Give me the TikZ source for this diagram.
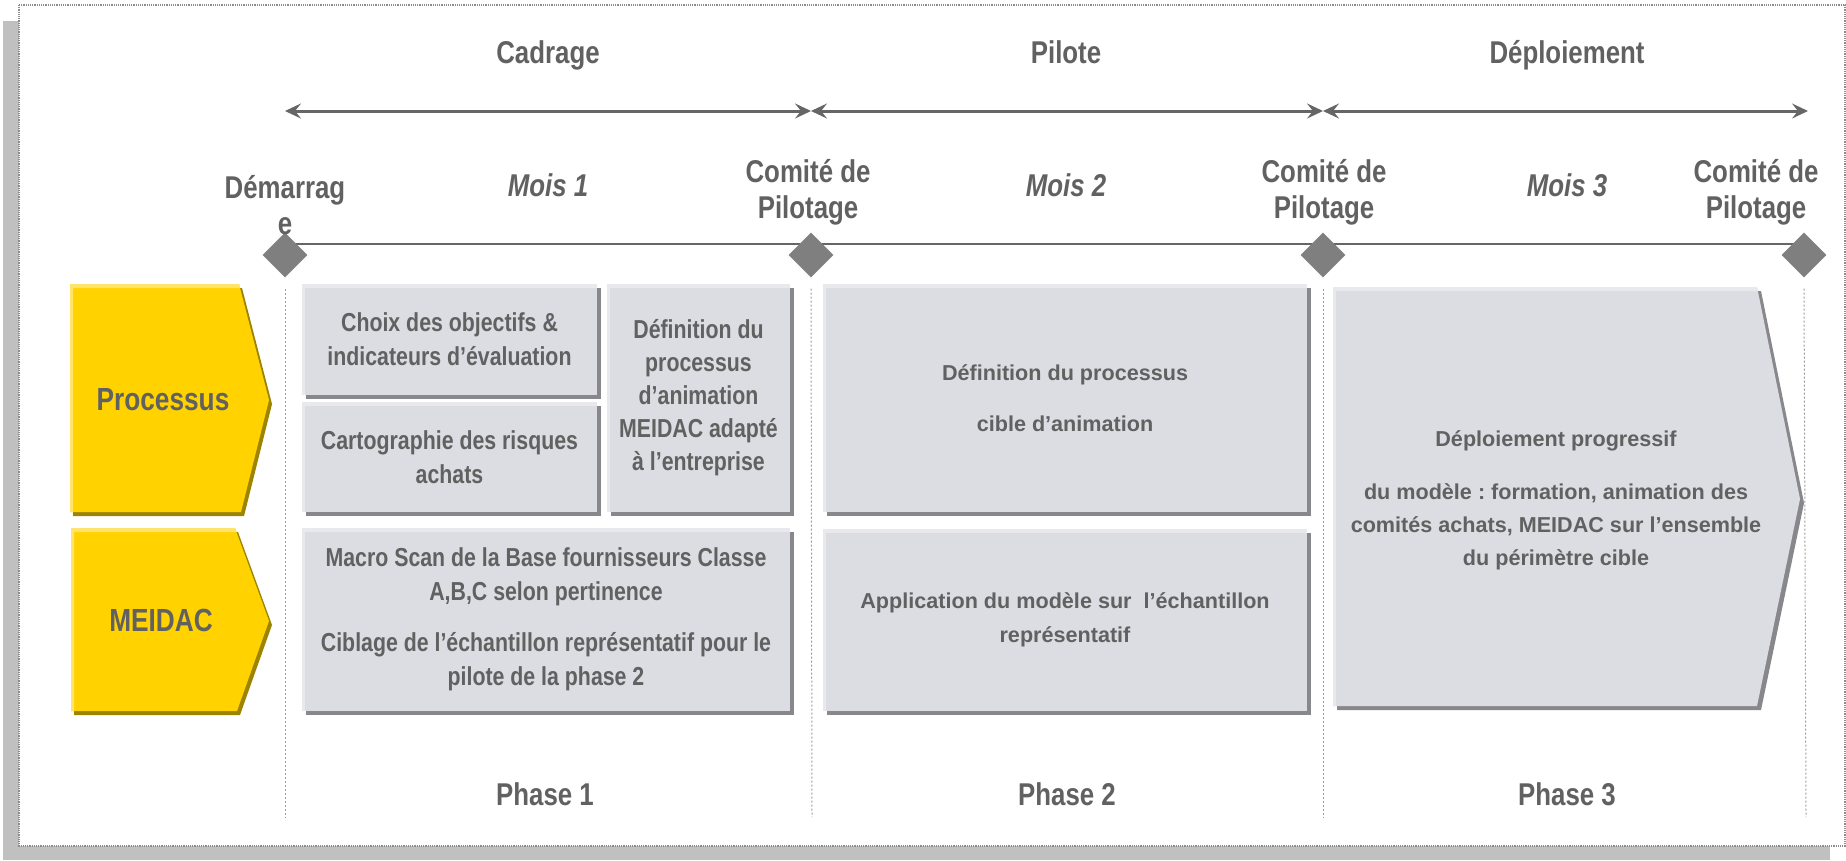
\documentclass[tikz,border=0pt]{standalone}
\usepackage{fontspec}
\usetikzlibrary{shapes.geometric,arrows.meta,shadows}

% condensed sans for labels, regular sans for the later phase boxes
\newfontfamily\narrow{Liberation Sans}[FakeStretch=0.82]
\newfontfamily\wide{Liberation Sans}
\frenchspacing

\definecolor{ink}{HTML}{616161}
\definecolor{linegray}{HTML}{666666}
\definecolor{stonegray}{HTML}{7F7F7F}
\definecolor{framedots}{HTML}{8C8C8C}
\definecolor{frameshadow}{HTML}{C0C0C0}
\definecolor{phasedash}{HTML}{9A9A9A}
\definecolor{cardfill}{HTML}{DCDDE3}
\definecolor{cardlight}{HTML}{E9E9ED}
\definecolor{cardshade}{HTML}{88888C}
\definecolor{gold}{HTML}{FFD200}
\definecolor{goldlight}{HTML}{FFE36B}
\definecolor{goldshade}{HTML}{9C8400}

\begin{document}
\begin{tikzpicture}[x=1pt,y=-1pt,
  toplabel/.style={text=ink, inner sep=0pt, align=center,
    font=\narrow\bfseries\fontsize{31.5}{36}\selectfont},
  monthlabel/.style={text=ink, inner sep=0pt,
    font=\narrow\bfseries\itshape\fontsize{31.5}{36}\selectfont},
  rowlabel/.style={text=ink, inner sep=0pt,
    font=\narrow\bfseries\fontsize{32}{36}\selectfont},
  milestone/.style={diamond, fill=stonegray, inner sep=0pt,
    minimum width=45pt, minimum height=45pt},
  span/.style={draw=linegray, line width=3pt,
    {Stealth[length=16pt,width=15pt,inset=6pt]}-{Stealth[length=16pt,width=15pt,inset=6pt]}},
  timeline/.style={draw=linegray, line width=2.6pt},
  phaseline/.style={draw=phasedash, line width=1pt, dash pattern=on 2pt off 2pt},
  card/.style={rectangle, inner sep=0pt, fill=cardfill, align=center, text=ink,
    drop shadow={shadow xshift=4pt, shadow yshift=-4pt, fill=cardshade, opacity=1},
    path picture={
      \fill[cardlight] (path picture bounding box.north west) rectangle ([yshift=-4pt]path picture bounding box.north east);
      \fill[cardlight] (path picture bounding box.north west) rectangle ([xshift=3pt]path picture bounding box.south west);}},
  cardnarrow/.style={card, font=\narrow\bfseries\fontsize{26}{34}\selectfont},
  cardwide/.style={card, font=\wide\bfseries\fontsize{21.6}{34}\selectfont},
]
\useasboundingbox (0,0) rectangle (1846,860);

% page frame with its shadow
\fill[frameshadow] (3,21) rectangle (1830,860);
\filldraw[fill=white, draw=framedots, densely dotted, line width=1.2pt] (19,5) rectangle (1845,846);

% phase spans
\coordinate (a0) at (285,111);
\coordinate (a1) at (811,111);
\coordinate (a2) at (1323,111);
\coordinate (a3) at (1808,111);
\draw[span] (a0) -- (a1);
\draw[span] (a1) -- (a2);
\draw[span] (a2) -- (a3);

\node[toplabel, anchor=base] (cadrage) at (548,63) {Cadrage};
\node[toplabel, anchor=base] (pilote) at (1066,63) {Pilote};
\node[toplabel, anchor=base] (deploi) at (1567,63) {Déploiement};

% milestone line and diamonds
\coordinate (m0) at (285,255);
\coordinate (m1) at (811,255);
\coordinate (m2) at (1323,255);
\coordinate (m3) at (1804,255);
\draw[timeline] ([yshift=11pt]m0) -- ([yshift=11pt]m3);
\node[milestone] (d0) at (m0) {};
\node[milestone] (d1) at (m1) {};
\node[milestone] (d2) at (m2) {};
\node[milestone] (d3) at (m3) {};

\node[toplabel] (start) at (285,205) {Démarrag\\e};
\node[toplabel] (cp1) at (808,192) {Comité de\\Pilotage};
\node[toplabel] (cp2) at (1324,192) {Comité de\\Pilotage};
\node[toplabel] (cp3) at (1756,192) {Comité de\\Pilotage};

\node[monthlabel, anchor=base] (mois1) at (548,196) {Mois 1};
\node[monthlabel, anchor=base] (mois2) at (1066,196) {Mois 2};
\node[monthlabel, anchor=base] (mois3) at (1567,196) {Mois 3};

% dashed phase separators
\coordinate (e0) at (285,817);
\coordinate (e1) at (812,817);
\coordinate (e2) at (1323,817);
\coordinate (e3) at (1806,817);
\draw[phaseline] ([yshift=-11pt]d0.south) -- (e0);
\draw[phaseline] ([yshift=-11pt]d1.south) -- (e1);
\draw[phaseline] ([yshift=-11pt]d2.south) -- (e2);
\draw[phaseline] ([yshift=-11pt]d3.south) -- (e3);

% row headers
\fill[goldshade] (73,288) -- (242,288) -- (272,404) -- (244,516) -- (73,516) -- cycle;
\fill[gold] (70,284) -- (239,284) -- (269,400) -- (241,512) -- (70,512) -- cycle;
\fill[goldlight] (70,284) -- (239,284) -- (240,288) -- (73,288) -- (73,512) -- (70,512) -- cycle;
\node[rowlabel] (proc) at (163,400) {Processus};

\fill[goldshade] (74,532) -- (238,532) -- (272,625) -- (240,715) -- (74,715) -- cycle;
\fill[gold] (71,528) -- (235,528) -- (269,621) -- (237,711) -- (71,711) -- cycle;
\fill[goldlight] (71,528) -- (235,528) -- (236,532) -- (74,532) -- (74,711) -- (71,711) -- cycle;
\node[rowlabel] (meidac) at (161,620) {MEIDAC};

% phase 1 activities
\node[cardnarrow, minimum width=295pt, minimum height=111pt] (choix) at (449.5,339.5)
  {Choix des objectifs \&\\indicateurs d’évaluation};
\node[cardnarrow, minimum width=295pt, minimum height=110pt] (carto) at (449.5,457)
  {Cartographie des risques\\achats};
\node[cardnarrow, minimum width=183pt, minimum height=228pt,
      font=\narrow\bfseries\fontsize{26}{33}\selectfont] (defin) at (698.5,398)
  {Définition du\\processus\\d’animation\\MEIDAC adapté\\à l’entreprise};
\node[cardnarrow, minimum width=488pt, minimum height=183pt] (macro) at (546,619.5)
  {Macro Scan de la Base fournisseurs Classe\\A,B,C selon pertinence\\[17pt]Ciblage de l’échantillon représentatif pour le\\pilote de la phase 2};

% phase 2 activities
\node[cardwide, minimum width=484pt, minimum height=228pt] (p2top) at (1065,398)
  {Définition du processus\\[17pt]cible d’animation};
\node[cardwide, minimum width=484pt, minimum height=182pt] (p2bot) at (1065,620)
  {Application du modèle sur~ l’échantillon\\représentatif};

% phase 3 roll-out arrow
\fill[cardshade] (1337,291) -- (1761,291) -- (1804,503) -- (1761,710) -- (1337,710) -- cycle;
\fill[cardfill] (1333,287) -- (1757,287) -- (1800,499) -- (1757,706) -- (1333,706) -- cycle;
\fill[cardlight] (1333,287) -- (1757,287) -- (1758,291) -- (1336,291) -- (1336,706) -- (1333,706) -- cycle;
\node[text=ink, align=center, inner sep=0pt,
      font=\wide\bfseries\fontsize{21.6}{33}\selectfont] (p3text) at (1556,500)
  {Déploiement progressif\\[20pt]du modèle : formation, animation des\\comités achats, MEIDAC sur l’ensemble\\du périmètre cible};

% phase names
\node[toplabel, anchor=base] (ph1) at (545,805) {Phase 1};
\node[toplabel, anchor=base] (ph2) at (1067,805) {Phase 2};
\node[toplabel, anchor=base] (ph3) at (1567,805) {Phase 3};
\end{tikzpicture}
\end{document}
